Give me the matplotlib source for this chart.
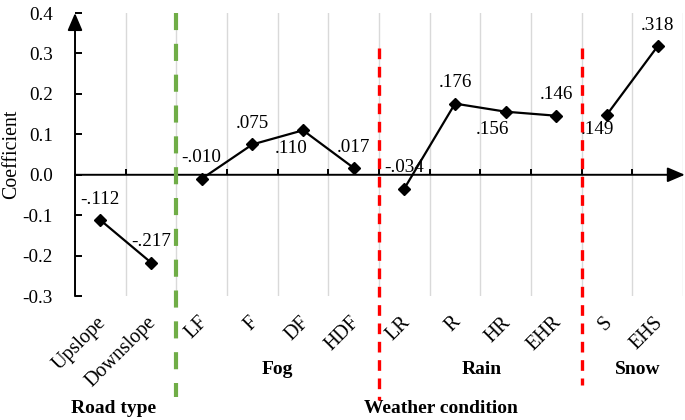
import numpy as np
import matplotlib
matplotlib.use("Agg")
import matplotlib.pyplot as plt

plt.rcParams['font.family'] = ['Liberation Serif', 'DejaVu Serif']
plt.rcParams['axes.unicode_minus'] = False

# categories and coefficients
categories = ['Upslope', 'Downslope', 'LF', 'F', 'DF', 'HDF',
              'LR', 'R', 'HR', 'EHR', 'S', 'EHS']
coefficients = [-0.112, -0.217, -0.010, 0.075, 0.110, 0.017,
                -0.034, 0.176, 0.156, 0.146, 0.149, 0.318]
# each group is drawn as its own connected line
groups = [('Road type', ['Upslope', 'Downslope']),
          ('Fog', ['LF', 'F', 'DF', 'HDF']),
          ('Rain', ['LR', 'R', 'HR', 'EHR']),
          ('Snow', ['S', 'EHS'])]
y_ticks = [-0.3, -0.2, -0.1, 0.0, 0.1, 0.2, 0.3, 0.4]

# label placement (offset points): above by default, some below-left
label_offsets = {'DF': (-8.5, -13), 'HR': (-9.5, -12.5), 'S': (-7, -10.5)}

x = np.arange(len(categories))
lookup = dict(zip(categories, coefficients))

fig = plt.figure(figsize=(6.85, 4.2), dpi=100)
ax = fig.add_axes([0.1095, 0.295, 0.8876, 0.674])
ax.set_xlim(-0.5, len(categories) - 0.5)
ax.set_ylim(min(y_ticks), max(y_ticks))

# light vertical grid at category boundaries
bounds = np.arange(len(categories)) + 0.5
for b in bounds:
    ax.axvline(b, color='#D9D9D9', lw=1.0, zorder=0)

# axes drawn as arrows
for s in ax.spines.values():
    s.set_visible(False)
ax.spines['bottom'].set_position(('data', 0))
arrow = dict(arrowstyle='-|>,head_length=0.75,head_width=0.32', color='black',
             lw=1.4, shrinkA=0, shrinkB=0, mutation_scale=14)
ax.annotate('', xy=(-0.5, max(y_ticks)), xytext=(-0.5, min(y_ticks)),
            arrowprops=arrow, annotation_clip=False)
ax.annotate('', xy=(1.003, 0), xytext=(0, 0), xycoords=('axes fraction', 'data'),
            textcoords=('axes fraction', 'data'), arrowprops=arrow, annotation_clip=False)

ax.set_yticks(y_ticks)
ax.set_yticklabels([f"{t:.1f}" for t in y_ticks])
ax.tick_params(axis='y', direction='in', length=5, width=1.4, pad=16, labelsize=13.8)
ax.set_xticks(bounds[:-1])
ax.set_xticklabels([])
ax.tick_params(axis='x', direction='in', length=4, width=1.4)

ax.set_ylabel('Coefficient', fontsize=14.3)
ax.yaxis.set_label_coords(-0.088, 0.5)

# category labels, rotated, below the plot area
for i, name in enumerate(categories):
    ax.annotate(name, xy=(i, 0), xycoords=('data', 'axes fraction'),
                xytext=(2, -17), textcoords='offset points', rotation=45,
                ha='right', va='center', rotation_mode='anchor', fontsize=14.5)

# lines per group with data labels
for gname, members in groups:
    idx = [categories.index(m) for m in members]
    vals = [lookup[m] for m in members]
    ax.plot(idx, vals, color='black', lw=1.6, marker='D', ms=6.5, zorder=3)
    for m, i, v in zip(members, idx, vals):
        txt = f"{v:.3f}".replace('0.', '.', 1)
        dx, dy = label_offsets.get(m, (0, 15))
        ax.annotate(txt, xy=(i, v), xytext=(dx, dy), textcoords='offset points',
                    ha='center', va='center', fontsize=13.8)

# group dividers
xt = ax.get_xaxis_transform()
ax.plot([1.5, 1.5], [1.0, -0.357], transform=xt, color='#70AD47', lw=3.0,
        dashes=(4.1, 3.3), clip_on=False, zorder=4)
ax.plot([5.5, 5.5], [0.876, -0.367], transform=xt, color='#FF0000', lw=2.4,
        dashes=(3.2, 2.3), clip_on=False, zorder=4)
ax.plot([9.5, 9.5], [0.876, -0.314], transform=xt, color='#FF0000', lw=2.4,
        dashes=(3.2, 2.3), clip_on=False, zorder=4)

# group titles
bold = dict(fontsize=14, fontweight='bold', ha='center', va='center', transform=xt)
ax.text(3.49, -0.261, 'Fog', **bold)
ax.text(7.53, -0.261, 'Rain', **bold)
ax.text(10.61, -0.261, 'Snow', **bold)
ax.text(0.27, -0.396, 'Road type', **bold)
ax.text(6.72, -0.396, 'Weather condition', **bold)

fig.savefig('out.png', dpi=100)
